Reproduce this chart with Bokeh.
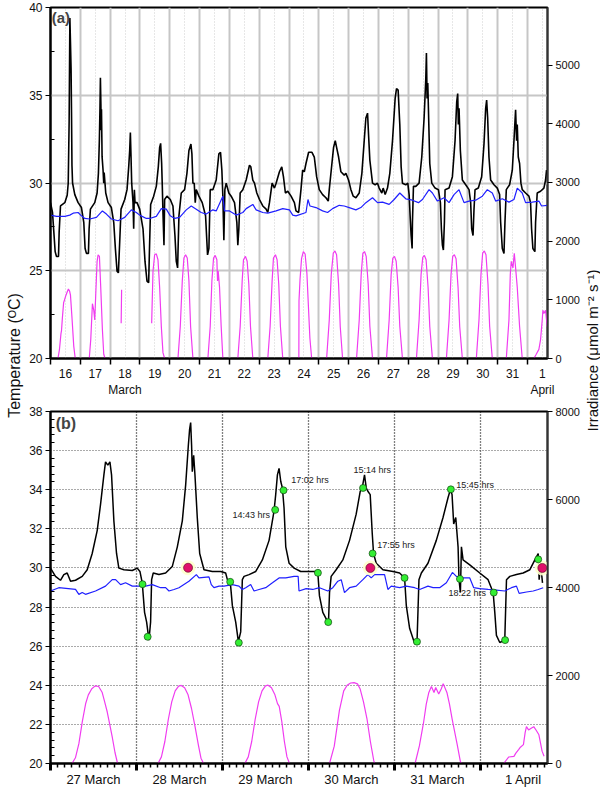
import math
from bokeh.plotting import figure
from bokeh.models import Range1d, LinearAxis, FixedTicker, Grid, Label
from bokeh.layouts import row, column
from bokeh.embed import file_html
from bokeh.resources import INLINE
from bokeh.core.properties import value

NaN = float("nan")
FONT = "Liberation Sans"
MAG = "#f03cf0"
BLUE = "#1f1fff"

# ---------------- Panel (a): 16 March - 1 April (day-of-month, 32 = 1 April) -------------
a_temp = [
    (16.000, 28.88), (16.067, 28.32), (16.112, 27.20), (16.156, 26.09), (16.201, 25.81), (16.268, 25.81),
    (16.290, 27.20), (16.335, 28.69), (16.480, 28.88), (16.560, 29.30), (16.595, 30.00), (16.625, 33.50),
    (16.650, 39.40), (16.670, 38.00), (16.690, 36.50), (16.705, 34.00), (16.720, 31.00), (16.740, 30.00),
    (16.815, 29.34), (16.926, 28.88), (17.038, 28.60), (17.116, 27.76), (17.161, 26.27), (17.205, 25.99),
    (17.272, 25.99), (17.295, 27.39), (17.339, 28.51), (17.484, 28.88), (17.563, 29.43), (17.607, 30.55),
    (17.640, 32.50), (17.660, 34.30), (17.674, 36.00), (17.690, 34.50), (17.700, 33.00), (17.710, 34.20),
    (17.730, 31.50), (17.763, 30.73), (17.786, 29.99), (17.800, 30.60), (17.853, 29.43), (17.931, 28.88),
    (18.042, 28.60), (18.121, 27.76), (18.176, 26.27), (18.232, 24.97), (18.277, 24.88), (18.321, 26.64),
    (18.366, 28.51), (18.489, 29.06), (18.567, 29.62), (18.623, 30.92), (18.656, 31.85), (18.679, 32.87),
    (18.701, 31.48), (18.723, 29.99), (18.768, 28.88), (18.790, 27.39), (18.813, 29.62), (18.835, 28.88),
    (18.902, 28.88), (18.991, 28.51), (19.103, 27.39), (19.170, 25.53), (19.237, 24.41), (19.292, 24.32),
    (19.326, 26.64), (19.359, 28.78), (19.460, 29.25), (19.549, 29.81), (19.616, 30.92), (19.661, 32.03),
    (19.694, 32.26), (19.728, 31.11), (19.750, 29.81), (19.772, 28.32), (19.806, 26.46), (19.828, 29.06),
    (19.906, 29.25), (20.018, 29.06), (20.107, 28.69), (20.174, 27.01), (20.219, 25.53), (20.263, 25.16),
    (20.308, 28.13), (20.386, 29.43), (20.498, 29.62), (20.576, 30.55), (20.643, 31.85), (20.710, 32.22),
    (20.743, 31.66), (20.777, 29.99), (20.821, 29.99), (20.855, 28.88), (20.888, 29.62), (20.978, 29.25),
    (21.089, 28.88), (21.201, 28.13), (21.268, 25.90), (21.313, 26.27), (21.357, 29.62), (21.446, 29.62),
    (21.558, 30.17), (21.647, 31.66), (21.703, 31.75), (21.748, 30.73), (21.781, 29.25), (21.815, 26.74),
    (21.848, 29.62), (21.893, 29.99), (21.982, 29.43), (22.060, 29.25), (22.172, 28.88), (22.250, 27.76),
    (22.283, 26.46), (22.317, 27.39), (22.362, 29.43), (22.451, 29.62), (22.563, 30.17), (22.674, 31.01),
    (22.719, 30.92), (22.786, 30.17), (22.842, 29.99), (22.920, 29.43), (23.009, 29.06), (23.121, 28.69),
    (23.232, 28.51), (23.288, 28.32), (23.344, 28.88), (23.433, 29.99), (23.511, 29.71), (23.567, 29.99),
    (23.679, 30.64), (23.757, 30.92), (23.813, 30.36), (23.879, 29.43), (23.958, 29.53), (24.069, 29.25),
    (24.181, 28.88), (24.234, 28.41), (24.323, 28.32), (24.401, 29.62), (24.457, 30.73), (24.513, 30.64),
    (24.569, 31.11), (24.658, 31.75), (24.770, 31.75), (24.848, 31.48), (24.926, 30.36), (25.015, 29.62),
    (25.127, 29.34), (25.238, 29.16), (25.317, 28.97), (25.350, 29.62), (25.439, 31.11), (25.495, 32.03),
    (25.551, 32.41), (25.596, 32.03), (25.663, 31.48), (25.741, 30.64), (25.852, 30.45), (25.908, 30.55),
    (25.997, 30.17), (26.076, 29.62), (26.154, 29.25), (26.243, 29.16), (26.355, 29.43), (26.444, 30.55),
    (26.522, 32.41), (26.578, 33.70), (26.634, 33.98), (26.667, 32.78), (26.712, 31.29), (26.801, 29.99),
    (26.890, 29.90), (26.968, 29.99), (27.024, 29.71), (27.113, 29.43), (27.158, 29.71), (27.225, 29.34),
    (27.303, 29.71), (27.381, 30.55), (27.471, 32.41), (27.560, 34.82), (27.605, 35.38), (27.660, 35.29),
    (27.716, 33.33), (27.761, 30.92), (27.805, 29.99), (27.917, 29.90), (27.984, 29.99), (28.029, 29.34),
    (28.062, 28.13), (28.096, 27.01), (28.129, 26.27), (28.140, 27.76), (28.174, 29.81), (28.252, 29.81),
    (28.363, 29.99), (28.453, 31.48), (28.531, 33.70), (28.587, 35.90), (28.609, 37.40), (28.631, 34.82),
    (28.654, 35.70), (28.676, 34.26), (28.721, 31.11), (28.788, 29.99), (28.899, 29.71), (29.011, 29.62),
    (29.078, 28.88), (29.111, 27.39), (29.145, 26.46), (29.178, 26.18), (29.212, 27.76), (29.234, 29.62),
    (29.368, 29.71), (29.480, 30.36), (29.569, 32.41), (29.625, 34.63), (29.658, 35.10), (29.680, 33.33),
    (29.703, 34.26), (29.747, 31.85), (29.814, 30.17), (29.926, 29.90), (30.038, 29.62), (30.093, 28.88),
    (30.127, 27.39), (30.172, 27.01), (30.205, 28.51), (30.239, 29.62), (30.350, 29.71), (30.462, 30.36),
    (30.540, 32.22), (30.596, 34.26), (30.629, 34.73), (30.663, 33.70), (30.707, 31.48), (30.763, 30.17),
    (30.875, 29.90), (30.986, 29.71), (31.064, 29.34), (31.098, 27.76), (31.154, 26.27), (31.210, 25.99),
    (31.243, 27.76), (31.288, 29.62), (31.399, 29.90), (31.489, 30.73), (31.545, 32.41), (31.600, 34.17),
    (31.634, 32.41), (31.656, 33.33), (31.690, 31.48), (31.734, 31.11), (31.779, 29.99), (31.823, 29.62),
    (31.935, 29.43), (32.047, 29.25), (32.102, 28.88), (32.136, 27.39), (32.180, 26.27), (32.247, 26.09),
    (32.270, 27.76), (32.325, 29.43), (32.437, 29.53), (32.549, 29.71), (32.605, 30.17), (32.638, 30.73),
]

a_water = [
    (16.000, 28.17), (16.201, 28.10), (16.480, 28.10), (16.647, 28.17), (16.759, 28.28), (16.926, 28.32),
    (17.038, 28.13), (17.150, 27.98), (17.317, 27.95), (17.540, 28.04), (17.741, 28.41), (17.875, 28.23),
    (18.042, 27.95), (18.266, 27.85), (18.489, 28.04), (18.712, 28.47), (18.879, 28.32), (18.991, 28.17),
    (19.214, 27.98), (19.326, 27.98), (19.549, 28.10), (19.717, 28.54), (19.884, 28.51), (20.018, 28.13),
    (20.163, 27.98), (20.330, 28.04), (20.554, 28.47), (20.721, 28.69), (20.888, 28.51), (21.055, 28.32),
    (21.223, 28.23), (21.446, 28.47), (21.558, 28.41), (21.781, 29.25), (21.837, 28.41), (22.004, 28.41),
    (22.228, 28.17), (22.451, 28.32), (22.563, 28.54), (22.786, 28.78), (22.897, 28.47), (23.121, 28.32),
    (23.288, 28.28), (23.567, 28.41), (23.790, 28.54), (24.013, 28.47), (24.125, 28.17), (24.234, 28.13),
    (24.569, 28.32), (24.636, 29.06), (24.703, 28.69), (24.904, 28.60), (25.127, 28.41), (25.294, 28.32),
    (25.462, 28.54), (25.685, 28.73), (25.852, 28.69), (26.020, 28.60), (26.243, 28.47), (26.410, 28.60),
    (26.578, 28.88), (26.801, 29.16), (26.968, 28.88), (27.136, 28.91), (27.359, 28.78), (27.526, 29.06),
    (27.716, 29.43), (27.917, 29.10), (28.140, 29.02), (28.341, 28.88), (28.475, 29.06), (28.698, 29.62),
    (28.810, 29.43), (28.977, 28.97), (29.201, 29.16), (29.368, 28.88), (29.535, 29.34), (29.703, 29.62),
    (29.870, 28.88), (30.038, 28.97), (30.261, 29.02), (30.484, 29.25), (30.652, 29.62), (30.819, 29.43),
    (30.931, 28.97), (31.154, 29.10), (31.377, 28.91), (31.545, 29.06), (31.656, 29.71), (31.823, 29.43),
    (31.935, 28.88), (32.158, 28.91), (32.381, 28.97), (32.471, 28.69), (32.660, 28.73),
]

a_irr = [
    (16.25, 0), (16.30, 150), (16.35, 420), (16.37, 480), (16.40, 700), (16.44, 950), (16.47, 1000),
    (16.50, 1050), (16.55, 1120), (16.60, 1183), (16.64, 1150), (16.67, 1080), (16.72, 700), (16.78, 211),
    (16.83, 0), (17.30, 0), (17.35, 322), (17.406, 933), (17.451, 822), (17.484, 656), (17.518, 1100),
    (17.563, 1656), (17.596, 1767), (17.641, 1739), (17.685, 1211), (17.741, 489), (17.786, 72), (17.830, 0),
    (NaN, NaN), (18.370, 600), (18.385, 1170), (NaN, NaN),
    (19.393, 600), (19.438, 1489), (19.493, 1767), (19.549, 1783), (19.605, 1683), (19.661, 1211),
    (19.717, 544), (19.772, 100), (19.828, 0),
    (20.275, 0), (20.353, 544), (20.420, 1322), (20.475, 1711), (20.531, 1767), (20.587, 1711), (20.643, 1322),
    (20.699, 544), (20.777, 0),
    (21.279, 0), (21.357, 544), (21.413, 1322), (21.469, 1711), (21.525, 1756), (21.580, 1683), (21.603, 1322),
    (21.625, 1489), (21.670, 1211), (21.725, 544), (21.781, 0),
    (22.283, 0), (22.362, 544), (22.429, 1322), (22.473, 1683), (22.540, 1739), (22.596, 1656), (22.652, 1267),
    (22.708, 544), (22.786, 0),
    (23.288, 0), (23.366, 544), (23.433, 1322), (23.478, 1711), (23.545, 1767), (23.600, 1683), (23.656, 1267),
    (23.712, 544), (23.790, 0),
    (24.330, 0), (24.335, 983), (24.370, 1350), (24.420, 1700), (24.480, 1822), (24.540, 1780), (24.600, 1450),
    (24.650, 900), (24.700, 350), (24.760, 0),
    (25.261, 0), (25.350, 656), (25.417, 1433), (25.484, 1794), (25.540, 1833), (25.596, 1767), (25.663, 1267),
    (25.718, 544), (25.797, 0),
    (26.265, 0), (26.355, 656), (26.421, 1433), (26.477, 1794), (26.533, 1822), (26.589, 1739), (26.656, 1267),
    (26.712, 544), (26.801, 0),
    (27.270, 0), (27.359, 656), (27.426, 1433), (27.482, 1711), (27.538, 1739), (27.594, 1656), (27.660, 1211),
    (27.716, 544), (27.805, 0),
    (28.274, 0), (28.363, 656), (28.430, 1433), (28.486, 1722), (28.542, 1756), (28.598, 1683), (28.665, 1211),
    (28.721, 544), (28.810, 0),
    (29.279, 0), (29.368, 656), (29.435, 1433), (29.491, 1739), (29.547, 1767), (29.603, 1700), (29.670, 1211),
    (29.725, 544), (29.814, 0),
    (30.283, 0), (30.372, 656), (30.439, 1433), (30.495, 1794), (30.551, 1833), (30.607, 1767), (30.674, 1267),
    (30.730, 544), (30.819, 0),
    (31.288, 0), (31.377, 656), (31.422, 1433), (31.455, 1656), (31.511, 1544), (31.556, 1794), (31.600, 1544),
    (31.656, 1211), (31.734, 544), (31.823, 0),
    (32.214, 0), (32.292, 72), (32.381, 156), (32.437, 322), (32.493, 656), (32.515, 822), (32.549, 767),
    (32.605, 822), (32.660, 544),
]

a_day_labels = ["16", "17", "18", "19", "20", "21", "22", "23", "24", "25", "26", "27", "28", "29", "30", "31", "1"]
a_month_labels = {"18": "March", "1": "April"}

# ---------------- Panel (b): 27 March - 1 April -------------
b_temp = [
    (27.000, 29.99), (27.058, 29.57), (27.116, 29.37), (27.155, 29.66), (27.194, 29.74), (27.233, 29.32),
    (27.291, 29.37), (27.369, 29.57), (27.427, 29.91), (27.485, 30.74), (27.543, 31.91), (27.582, 33.25),
    (27.621, 34.76), (27.640, 35.42), (27.667, 35.26), (27.691, 35.42), (27.710, 34.76), (27.737, 32.41),
    (27.768, 30.74), (27.795, 29.99), (27.854, 29.91), (27.951, 29.87), (28.009, 29.99), (28.040, 29.82),
    (28.067, 29.24), (28.094, 27.73), (28.118, 27.23), (28.145, 26.31), (28.164, 27.23), (28.176, 29.40),
    (28.195, 29.74), (28.261, 29.66), (28.339, 29.74), (28.416, 30.07), (28.475, 31.08), (28.533, 32.41),
    (28.572, 34.25), (28.603, 36.26), (28.618, 37.10), (28.630, 37.43), (28.641, 36.26), (28.649, 34.92),
    (28.665, 35.76), (28.680, 34.76), (28.707, 32.58), (28.735, 30.74), (28.785, 29.91), (28.882, 29.82),
    (28.979, 29.82), (29.037, 29.74), (29.057, 29.40), (29.095, 29.07), (29.115, 28.07), (29.154, 27.23),
    (29.185, 26.23), (29.212, 26.73), (29.231, 29.40), (29.251, 29.57), (29.309, 29.66), (29.387, 29.82),
    (29.464, 30.41), (29.542, 31.41), (29.600, 32.92), (29.619, 33.75), (29.639, 34.76), (29.658, 35.09),
    (29.678, 34.42), (29.697, 34.09), (29.716, 33.08), (29.736, 31.08), (29.775, 30.24), (29.833, 29.99),
    (29.910, 29.82), (29.973, 29.82), (30.070, 29.82), (30.109, 29.74), (30.128, 28.57), (30.167, 27.73),
    (30.206, 27.40), (30.233, 27.23), (30.245, 28.74), (30.264, 29.57), (30.322, 29.91), (30.400, 30.41),
    (30.478, 31.41), (30.555, 32.75), (30.602, 33.92), (30.625, 34.09), (30.652, 34.76), (30.672, 34.09),
    (30.691, 33.92), (30.718, 33.75), (30.742, 31.75), (30.757, 30.74), (30.788, 30.24), (30.866, 29.91),
    (30.983, 29.82), (31.060, 29.74), (31.118, 29.49), (31.138, 28.07), (31.177, 26.90), (31.235, 26.14),
    (31.262, 26.14), (31.285, 29.40), (31.313, 29.74), (31.390, 30.24), (31.487, 31.41), (31.565, 32.58),
    (31.623, 33.59), (31.650, 34.00), (31.670, 33.75), (31.689, 32.25), (31.713, 32.58), (31.740, 31.08),
    (31.751, 29.40), (31.767, 28.74), (31.779, 31.08), (31.798, 30.41), (31.876, 30.16), (31.992, 29.74),
    (32.089, 29.40), (32.148, 28.74), (32.167, 27.73), (32.186, 26.55), (32.225, 26.19), (32.283, 26.31),
    (32.303, 29.40), (32.342, 29.57), (32.419, 29.66), (32.497, 29.74), (32.575, 29.91), (32.633, 30.41),
    (32.672, 30.74), (32.683, 29.40), (32.699, 30.24), (32.722, 29.24),
]

b_water = [
    (27.000, 28.82), (27.097, 28.99), (27.291, 28.90), (27.330, 28.65), (27.369, 28.74), (27.407, 28.65),
    (27.524, 28.82), (27.640, 29.07), (27.718, 29.40), (27.757, 29.40), (27.815, 29.15), (27.873, 29.24),
    (27.951, 29.07), (28.106, 29.07), (28.184, 29.15), (28.281, 28.99), (28.339, 28.99), (28.378, 28.82),
    (28.436, 28.90), (28.494, 28.99), (28.610, 29.32), (28.696, 29.66), (28.727, 29.49), (28.843, 29.54),
    (28.870, 29.15), (28.901, 28.99), (28.960, 29.07), (29.018, 29.07), (29.115, 29.15), (29.192, 29.07),
    (29.231, 28.90), (29.270, 28.99), (29.328, 29.15), (29.367, 28.82), (29.425, 28.90), (29.503, 28.99),
    (29.581, 29.24), (29.658, 29.49), (29.736, 29.49), (29.833, 29.57), (29.880, 29.57), (29.890, 28.82),
    (29.973, 28.94), (30.050, 28.90), (30.128, 28.99), (30.225, 28.82), (30.283, 28.99), (30.342, 29.32),
    (30.381, 29.40), (30.419, 28.74), (30.478, 28.99), (30.555, 29.07), (30.633, 29.40), (30.691, 29.66),
    (30.730, 29.49), (30.769, 29.66), (30.885, 29.66), (30.924, 28.90), (30.963, 29.07), (31.060, 28.99),
    (31.138, 29.07), (31.235, 28.99), (31.293, 28.90), (31.390, 29.07), (31.449, 28.99), (31.526, 28.99),
    (31.604, 29.24), (31.674, 29.77), (31.720, 29.57), (31.798, 29.49), (31.876, 29.49), (31.922, 28.99),
    (31.992, 28.94), (32.089, 28.90), (32.186, 28.87), (32.283, 28.82), (32.361, 28.99), (32.419, 29.07),
    (32.450, 28.70), (32.536, 28.77), (32.614, 28.82), (32.672, 28.90), (32.730, 28.99),
]

b_irr = [
    (27.00, 0), (27.25, 0), (27.29, 130), (27.33, 450), (27.37, 950), (27.41, 1370), (27.44, 1560),
    (27.48, 1700), (27.52, 1765), (27.56, 1750), (27.60, 1620), (27.63, 1400), (27.66, 1170), (27.69, 880),
    (27.72, 580), (27.75, 250), (27.78, 0),
    (28.25, 0), (28.29, 150), (28.33, 500), (28.37, 1000), (28.41, 1400), (28.45, 1650), (28.49, 1760),
    (28.52, 1775), (28.56, 1720), (28.60, 1560), (28.64, 1250), (28.68, 850), (28.72, 420), (28.75, 120),
    (28.78, 0),
    (29.26, 0), (29.30, 150), (29.34, 500), (29.38, 1000), (29.42, 1400), (29.46, 1650), (29.50, 1765),
    (29.53, 1780), (29.57, 1720), (29.61, 1560), (29.64, 1360), (29.66, 1300), (29.69, 950), (29.72, 500),
    (29.75, 150), (29.78, 0),
    (30.245, 0), (30.30, 393), (30.36, 1207), (30.41, 1652), (30.45, 1778), (30.49, 1830), (30.53, 1837),
    (30.57, 1810), (30.60, 1700), (30.64, 1400), (30.68, 1022), (30.72, 500), (30.76, 59), (30.77, 0),
    (31.24, 0), (31.29, 400), (31.34, 948), (31.37, 1350), (31.40, 1615), (31.43, 1748), (31.46, 1615),
    (31.48, 1726), (31.515, 1578), (31.545, 1700), (31.567, 1815), (31.61, 1615), (31.64, 1350), (31.67, 1022),
    (31.73, 430), (31.767, 44), (31.78, 0),
    (32.27, 0), (32.33, 148), (32.39, 163), (32.41, 230), (32.446, 319), (32.465, 370), (32.50, 430),
    (32.52, 700), (32.535, 837), (32.56, 763), (32.59, 800), (32.62, 837), (32.65, 750), (32.68, 652),
    (32.70, 450), (32.717, 281), (32.74, 163),
]

b_green = [
    (28.07, 29.17), (28.13, 26.48), (29.09, 29.29), (29.19, 26.18), (29.613, 32.97), (29.71, 33.97),
    (30.11, 29.75), (30.23, 27.23), (30.635, 34.09), (30.746, 30.74), (31.118, 29.49), (31.262, 26.23),
    (31.656, 34.02), (31.762, 29.44), (32.155, 28.74), (32.287, 26.31), (32.672, 30.44),
]
b_red = [(28.60, 30.01), (30.72, 30.00), (32.72, 30.00)]

b_ann_text = ["14:43 hrs", "17:02 hrs", "15:14 hrs", "17:55 hrs", "15:45 hrs", "18:22 hrs"]
b_ann_x = [29.116, 29.80, 30.523, 30.80, 31.72, 31.628]
b_ann_y = [32.73, 34.49, 34.99, 31.18, 34.24, 28.72]

b_day_labels = ["27 March", "28 March", "29 March", "30 March", "31 March", "1 April"]


def xy(pairs):
    return [p[0] for p in pairs], [p[1] for p in pairs]


def style_axis(ax, size):
    ax.major_label_text_font = FONT
    ax.major_label_text_font_size = size
    ax.major_label_text_color = "#111111"
    ax.axis_line_color = "black"
    ax.major_tick_line_color = "black"
    ax.minor_tick_line_color = "black"


# ================= Figure A =================
pa = figure(width=556, height=400, x_range=Range1d(16, 32.67), y_range=Range1d(20, 40),
            x_axis_type=None, y_axis_type=None, toolbar_location=None, output_backend="svg",
            min_border_left=23, min_border_right=35, min_border_top=7, min_border_bottom=38)
pa.extra_y_ranges = {"irr": Range1d(0, 5980)}
pa.outline_line_color = "black"
pa.outline_line_width = 2
pa.background_fill_color = "white"

a_mid = list(range(16, 33))
a_noon = [d + 0.5 for d in range(16, 33)]
a_over = {}
for pos, lab in zip(a_noon, a_day_labels):
    a_over[pos] = lab + ("\n" + a_month_labels[lab] if lab in a_month_labels else "")

pa.add_layout(Grid(dimension=0, ticker=FixedTicker(ticks=a_mid, minor_ticks=a_noon),
                   grid_line_color="#c6c6c6", grid_line_width=2,
                   minor_grid_line_color="#cfcfcf", minor_grid_line_width=1, minor_grid_line_dash="1 2"))
pa.add_layout(Grid(dimension=1, ticker=FixedTicker(ticks=[25, 30, 35]),
                   grid_line_color="#c6c6c6", grid_line_width=2))

axb = LinearAxis(ticker=FixedTicker(ticks=a_noon, minor_ticks=a_mid))
style_axis(axb, "12px")
axb.major_label_overrides = a_over
axb.major_tick_out = 0
axb.major_tick_in = 0
axb.minor_tick_out = 6
axb.minor_tick_in = 0
axb.minor_tick_line_width = 1.5
axb.major_label_standoff = 2
axb.axis_line_width = 2
pa.add_layout(axb, "below")

axl = LinearAxis(ticker=FixedTicker(ticks=[20, 25, 30, 35, 40], minor_ticks=[22.5, 27.5, 32.5, 37.5]))
style_axis(axl, "12px")
axl.major_tick_out = 5
axl.major_tick_in = 0
axl.minor_tick_in = 4
axl.minor_tick_out = 0
axl.major_label_standoff = 3
axl.axis_line_width = 2
pa.add_layout(axl, "left")

axr = LinearAxis(y_range_name="irr", ticker=FixedTicker(ticks=[0, 1000, 2000, 3000, 4000, 5000]))
style_axis(axr, "11px")
axr.major_tick_out = 5
axr.major_tick_in = 0
axr.major_label_standoff = 3
axr.axis_line_width = 1.5
axr.axis_line_color = "#333333"
pa.add_layout(axr, "right")

x, y = xy(a_irr)
pa.line(x, y, y_range_name="irr", line_color=MAG, line_width=1.2)
x, y = xy(a_temp)
pa.line(x, y, line_color="black", line_width=1.6)
x, y = xy(a_water)
pa.line(x, y, line_color=BLUE, line_width=1.2)

pa.add_layout(Label(x=16.04, y=39.45, text="(a)", text_font=FONT, text_font_size="15px",
                    text_font_style="bold", text_baseline="middle", text_align="left"))

# ================= Figure B =================
pb = figure(width=556, height=389, x_range=Range1d(27, 32.78), y_range=Range1d(20, 38),
            x_axis_type=None, y_axis_type=None, toolbar_location=None, output_backend="svg",
            min_border_left=23, min_border_right=35, min_border_top=11, min_border_bottom=24)
pb.extra_y_ranges = {"irr": Range1d(0, 8000)}
pb.outline_line_color = "black"
pb.outline_line_width = 2

b_mid = list(range(27, 33))
b_noon = [d + 0.5 for d in range(27, 33)]
b_two_hours = [27 + k / 12 for k in range(0, 70)]

pb.add_layout(Grid(dimension=0, ticker=FixedTicker(ticks=b_mid[1:]),
                   grid_line_color="black", grid_line_width=1.3, grid_line_dash="1 2"))
pb.add_layout(Grid(dimension=1, ticker=FixedTicker(ticks=[22, 24, 26, 28, 30, 32, 34, 36]),
                   grid_line_color="#555555", grid_line_width=1.2, grid_line_dash="1 2"))

axb1 = LinearAxis(ticker=FixedTicker(ticks=b_mid, minor_ticks=b_two_hours))
style_axis(axb1, "0px")
axb1.major_label_overrides = {m: "" for m in b_mid}
axb1.major_tick_out = 7
axb1.major_tick_in = 0
axb1.major_tick_line_width = 3
axb1.minor_tick_out = 4
axb1.minor_tick_in = 0
axb1.minor_tick_line_width = 1.5
axb1.major_label_standoff = 0
axb1.axis_line_width = 2
pb.add_layout(axb1, "below")

axb2 = LinearAxis(ticker=FixedTicker(ticks=b_noon))
style_axis(axb2, "13px")
axb2.major_label_overrides = {pos: lab for pos, lab in zip(b_noon, b_day_labels)}
axb2.axis_line_color = None
axb2.major_tick_out = 0
axb2.major_tick_in = 0
axb2.major_label_standoff = 1
pb.add_layout(axb2, "below")

b_minor_y = [round(20 + 0.4 * k, 1) for k in range(0, 46) if k % 5 != 0]
axl2 = LinearAxis(ticker=FixedTicker(ticks=list(range(20, 39, 2)), minor_ticks=b_minor_y))
style_axis(axl2, "12px")
axl2.major_tick_out = 5
axl2.major_tick_in = 0
axl2.minor_tick_in = 4
axl2.minor_tick_out = 0
axl2.major_label_standoff = 3
axl2.axis_line_width = 2
pb.add_layout(axl2, "left")

axr2 = LinearAxis(y_range_name="irr", ticker=FixedTicker(ticks=[0, 2000, 4000, 6000, 8000]))
style_axis(axr2, "11px")
axr2.major_tick_out = 5
axr2.major_tick_in = 0
axr2.major_label_standoff = 3
axr2.axis_line_width = 1.5
axr2.axis_line_color = "#333333"
pb.add_layout(axr2, "right")

x, y = xy(b_irr)
pb.line(x, y, y_range_name="irr", line_color=MAG, line_width=1.2)
x, y = xy(b_temp)
pb.line(x, y, line_color="black", line_width=1.5)
x, y = xy(b_water)
pb.line(x, y, line_color=BLUE, line_width=1.2)

x, y = xy(b_red)
pb.scatter(x, y, size=15, fill_color="#ffffcc", fill_alpha=0.9, line_color=None)
pb.scatter(x, y, size=9, fill_color="#e0106a", line_color="#550022", line_width=0.6)
x, y = xy(b_green)
pb.scatter(x, y, size=7, fill_color="#33ee33", line_color="#114411", line_width=0.7)

pb.text(x=b_ann_x, y=b_ann_y, text=b_ann_text, text_font=value(FONT), text_font_size="9px",
        text_align="left", text_baseline="middle", text_color="#222222")

pb.add_layout(Label(x=27.06, y=37.4, text="(b)", text_font=FONT, text_font_size="16px",
                    text_font_style="bold", text_baseline="middle", text_align="left"))

# ================= side label strips =================
TOTAL_H = 789


def strip(w, text, xcen, ycen, size):
    f = figure(width=w, height=TOTAL_H, x_range=Range1d(0, w), y_range=Range1d(TOTAL_H, 0),
               x_axis_type=None, y_axis_type=None, toolbar_location=None, output_backend="svg",
               min_border=0)
    f.outline_line_color = None
    f.add_layout(Label(x=xcen, y=ycen, text=text, angle=math.pi / 2, text_align="center",
                       text_baseline="middle", text_font=FONT, text_font_size=size, text_color="#111111"))
    return f


left_strip = strip(26, "Temperature (ᴼC)", 14, 355, "16px")
right_strip = strip(18, "Irradiance (μmol m⁻² s⁻¹)", 10, 350, "15px")

layout = row(left_strip, column(pa, pb), right_strip)

with open("out.html", "w") as fh:
    fh.write(file_html(layout, INLINE))
